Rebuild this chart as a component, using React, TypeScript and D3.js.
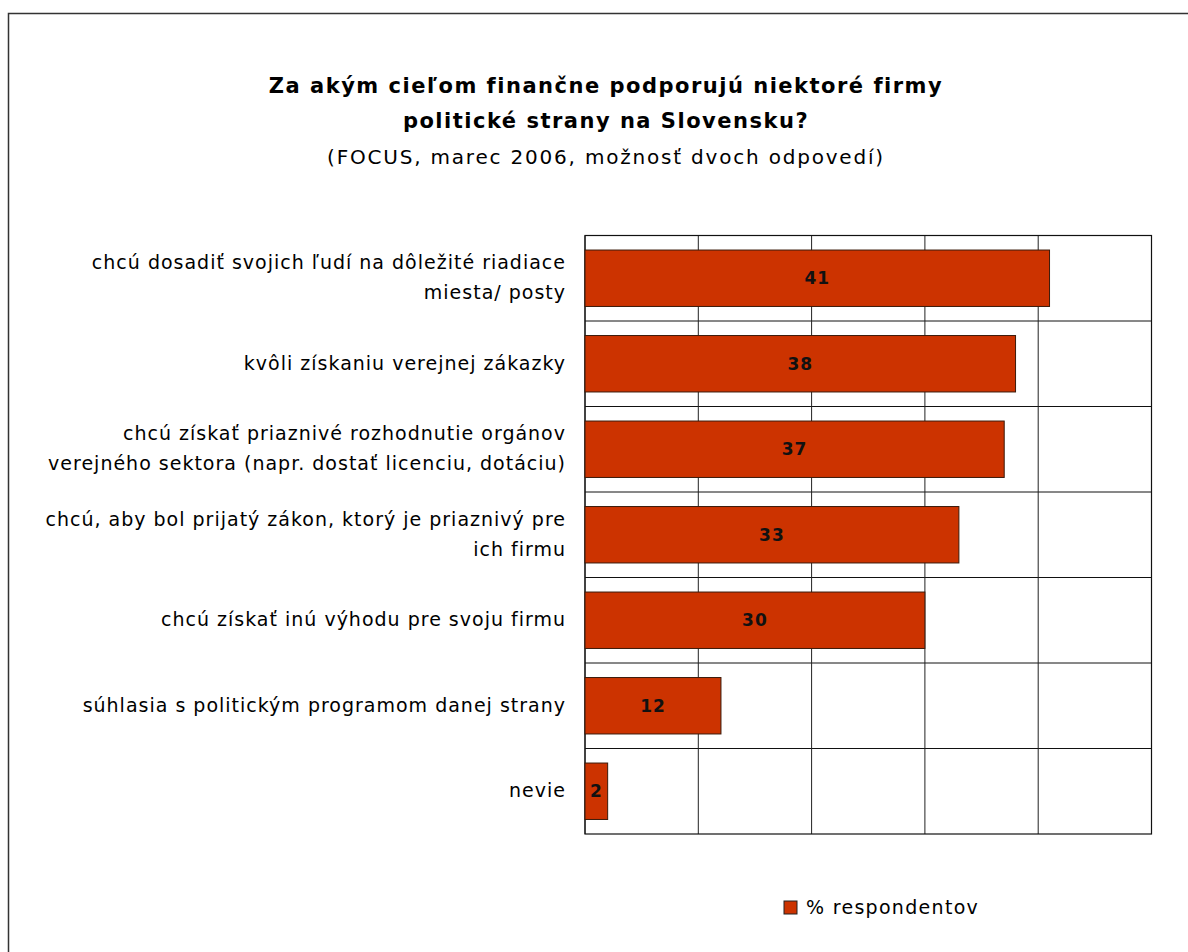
import { scaleBand, scaleLinear } from 'd3'

const categories: string[][] = [
  ['chcú dosadiť svojich ľudí na dôležité riadiace', 'miesta/ posty'],
  ['kvôli získaniu verejnej zákazky'],
  ['chcú získať priaznivé rozhodnutie orgánov', 'verejného sektora (napr. dostať licenciu, dotáciu)'],
  ['chcú, aby bol prijatý zákon, ktorý je priaznivý pre', 'ich firmu'],
  ['chcú získať inú výhodu pre svoju firmu'],
  ['súhlasia s politickým programom danej strany'],
  ['nevie'],
]
const values = [41, 38, 37, 33, 30, 12, 2]
const xTicks = [0, 10, 20, 30, 40, 50]
const titleLines = ['Za akým cieľom finančne podporujú niektoré firmy', 'politické strany na Slovensku?']
const subtitle = '(FOCUS, marec 2006, možnosť dvoch odpovedí)'
const seriesName = '% respondentov'

const W = 1188
const H = 952
const plot = { left: 585, top: 235.5, right: 1151.5, bottom: 834 }
const font = '"DejaVu Sans", Verdana, sans-serif'
const barColor = '#cc3300'

export default function App() {
  const x = scaleLinear().domain([0, 50]).range([plot.left, plot.right])
  const y = scaleBand<number>()
    .domain(values.map((_, i) => i))
    .range([plot.top, plot.bottom])
    .paddingInner(0.34)
    .paddingOuter(0.17)
  const step = y.step()

  return (
    <svg width={W} height={H} style={{ position: 'absolute', left: 0, top: 0 }} fontFamily={font}>
      <rect x={0} y={0} width={W} height={H} fill="#fff" />
      <rect x={8.5} y={13.5} width={W + 20} height={H + 20} fill="none" stroke="#333" strokeWidth={1.5} />

      <g textAnchor="middle" fill="#000">
        {titleLines.map((t, i) => (
          <text key={i} x={606} y={93 + i * 35} fontSize={21} fontWeight="bold" letterSpacing={1.5}>
            {t}
          </text>
        ))}
        <text x={606} y={164} fontSize={20} letterSpacing={1.8}>
          {subtitle}
        </text>
      </g>

      {/* row lines */}
      {values.map((_, i) => (
        <line
          key={'h' + i}
          x1={plot.left}
          x2={plot.right}
          y1={plot.top + i * step}
          y2={plot.top + i * step}
          stroke="#111"
          strokeWidth={1}
        />
      ))}
      {xTicks.map((t) => (
        <line key={'v' + t} x1={x(t)} x2={x(t)} y1={plot.top} y2={plot.bottom} stroke="#222" strokeWidth={1} />
      ))}
      <rect
        x={plot.left}
        y={plot.top}
        width={plot.right - plot.left}
        height={plot.bottom - plot.top}
        fill="none"
        stroke="#111"
        strokeWidth={1.2}
      />

      {values.map((v, i) => {
        const by = y(i) ?? 0
        return (
          <g key={'b' + i}>
            <rect
              x={x(0)}
              y={by}
              width={x(v) - x(0)}
              height={y.bandwidth()}
              fill={barColor}
              stroke="#3a1a0a"
              strokeWidth={1}
            />
            <text
              x={(x(0) + x(v)) / 2}
              y={by + y.bandwidth() / 2 + 6}
              textAnchor="middle"
              fontSize={17}
              fontWeight="bold"
              letterSpacing={1}
              fill="#111"
            >
              {v}
            </text>
          </g>
        )
      })}

      {categories.map((lines, i) => {
        const cy = plot.top + (i + 0.5) * step
        const lh = 30
        return (
          <text key={'c' + i} x={566} textAnchor="end" fontSize={19} letterSpacing={1} fill="#000">
            {lines.map((l, j) => (
              <tspan key={j} x={566} y={cy + 6 + (j - (lines.length - 1) / 2) * lh}>
                {l}
              </tspan>
            ))}
          </text>
        )
      })}

      <rect x={784} y={901} width={13} height={13} fill={barColor} stroke="#222" strokeWidth={1} />
      <text x={806} y={914} fontSize={19} letterSpacing={1.3} fill="#000">
        {seriesName}
      </text>
    </svg>
  )
}
